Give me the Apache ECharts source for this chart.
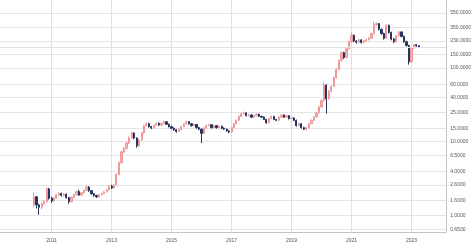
<!DOCTYPE html>
<html>
<head>
<meta charset="utf-8">
<script src="https://cdn.jsdelivr.net/npm/echarts@6/dist/echarts.min.js"></script>
<style>html,body{margin:0;padding:0;background:#fff}#c{width:474px;height:247px}</style>
</head>
<body>
<div id="c"></div>
<script>
// Monthly candles, first month and count
var startYear = 2010, startMonth = 6, monthCount = 155;

var openV = [1.40,1.80,1.40,1.30,1.45,1.55,2.30,1.72,1.58,1.75,1.92,2.00,1.88,1.95,1.75,1.55,1.78,1.92,2.12,1.90,
2.05,2.20,2.45,2.18,1.98,1.88,1.80,1.92,2.00,2.10,2.25,2.50,2.38,2.60,3.60,5.20,7.30,8.10,9.60,11.3,
13.1,11.2,8.8,10.6,13.2,16.5,17.6,16.0,15.4,16.6,17.8,16.8,17.6,18.6,17.2,16.0,15.2,14.5,13.8,14.6,
16.0,17.5,18.7,17.5,16.5,17.1,15.5,14.8,13.0,15.4,16.6,17.0,15.5,16.5,15.5,16.2,15.2,14.8,14.0,13.5,
15.5,17.5,19.5,22.0,24.0,24.5,22.5,23.0,21.5,22.5,23.5,22.0,21.5,20.0,18.0,20.5,22.0,20.0,19.5,21.5,
23.0,21.5,22.5,20.5,21.0,19.5,16.5,17.5,15.5,14.8,15.5,17.5,19.5,21.6,24.5,29.5,36.0,58.0,38.0,48.0,
56.0,73.0,95.0,125,160,138,180,225,275,230,222,238,220,232,240,250,290,380,395,330,
290,250,375,300,245,225,270,305,265,225,200,120,185,205,198];
var closeV = [1.80,1.40,1.30,1.45,1.55,2.30,1.72,1.58,1.75,1.92,2.00,1.88,1.95,1.75,1.55,1.78,1.92,2.12,1.90,2.05,
2.20,2.45,2.18,1.98,1.88,1.80,1.92,2.00,2.10,2.25,2.50,2.38,2.60,3.60,5.20,7.30,8.10,9.60,11.3,13.1,
11.2,8.8,10.6,13.2,16.5,17.6,16.0,15.4,16.6,17.8,16.8,17.6,18.6,17.2,16.0,15.2,14.5,13.8,14.6,16.0,
17.5,18.7,17.5,16.5,17.1,15.5,14.8,13.0,15.4,16.6,17.0,15.5,16.5,15.5,16.2,15.2,14.8,14.0,13.5,15.5,
17.5,19.5,22.0,24.0,24.5,22.5,23.0,21.5,22.5,23.5,22.0,21.5,20.0,18.0,20.5,22.0,20.0,19.5,21.5,23.0,
21.5,22.5,20.5,21.0,19.5,16.5,17.5,15.5,14.8,15.5,17.5,19.5,21.6,24.5,29.5,36.0,58.0,38.0,48.0,56.0,
73.0,95.0,125,160,138,180,225,275,230,222,238,220,232,240,250,290,380,395,330,290,
250,375,300,245,225,270,305,265,225,200,120,185,205,198,188];
var lowV = [1.30,1.25,1.03,1.22,1.40,1.50,1.65,1.50,1.55,1.70,1.85,1.82,1.80,1.70,1.45,1.52,1.72,1.88,1.85,1.85,
2.00,2.15,2.10,1.92,1.80,1.74,1.76,1.88,1.95,2.05,2.20,2.30,2.32,2.55,3.50,5.00,7.00,7.90,9.30,11.0,
10.8,8.3,8.6,10.3,12.8,16.0,15.5,14.8,15.0,16.2,16.4,16.3,17.2,16.8,15.6,14.8,14.0,13.2,13.5,14.3,
15.7,17.1,17.0,16.0,16.2,15.0,14.3,9.6,12.6,15.0,16.2,15.1,15.2,15.1,15.2,14.8,14.4,13.6,13.0,13.2,
15.2,17.2,19.1,21.6,23.4,22.0,22.0,21.0,21.1,22.1,21.6,21.0,19.6,17.5,17.7,20.1,19.6,19.0,19.2,21.1,
21.0,21.1,20.0,20.1,19.0,16.0,16.2,15.0,14.4,14.2,15.2,17.2,19.1,21.2,24.0,28.8,35.0,24.0,37.0,46.5,
54.5,71.0,92.0,121,132,134,175,220,222,212,216,212,214,226,234,245,284,368,320,280,
240,245,290,235,215,220,264,258,218,194,110,116,180,192,184];
var highV = [2.05,1.85,1.45,1.52,1.62,2.40,2.38,1.80,1.80,1.98,2.08,2.05,2.02,2.00,1.80,1.82,1.98,2.18,2.25,2.10,
2.28,2.58,2.50,2.22,2.02,1.92,1.96,2.05,2.15,2.30,2.58,2.62,2.68,3.75,5.40,7.60,8.50,10.0,11.8,13.6,
13.4,11.5,11.0,13.6,17.0,18.5,18.0,16.4,17.0,18.3,18.2,18.0,19.2,19.0,17.6,16.4,15.6,14.8,15.0,16.4,
17.9,19.3,19.0,17.8,17.6,17.4,15.9,15.0,15.8,17.0,17.5,17.3,16.9,16.8,16.6,16.5,15.6,15.1,14.3,15.8,
17.9,20.0,22.6,24.6,25.6,24.9,23.6,23.4,23.0,24.0,23.9,22.5,21.9,20.4,20.9,22.5,22.4,20.4,21.9,23.6,
23.4,23.0,22.9,21.5,21.4,19.9,17.9,17.8,15.9,15.9,17.9,20.0,22.1,25.2,30.5,37.5,63.0,60.0,50.0,58.0,
76.0,99.0,130,167,165,186,232,300,282,236,245,244,238,247,258,298,420,412,402,338,
298,385,382,308,252,278,315,312,272,232,205,192,212,210,203];

var yTickValues = [0.65,1.0,1.6,2.6,4.0,6.5,10,15,25,40,60,100,150,230,350,550];
var xTickYears = [2011,2013,2015,2017,2019,2021,2023];
var lastPrice = 188;

var dates = [];
for (var i = 0; i < monthCount; i++) {
  var m = startMonth - 1 + i;
  dates.push(Date.UTC(startYear + Math.floor(m/12), m%12, 1));
}
var candleData = dates.map(function(d,i){return [d, openV[i], closeV[i], lowV[i], highV[i]];});
var xTicks = xTickYears.map(function(y){return Date.UTC(y,0,1);});

var chart = echarts.init(document.getElementById('c'), null, {renderer:'canvas'});
chart.setOption({
  animation:false,
  backgroundColor:'#ffffff',
  textStyle:{fontFamily:'Liberation Sans, Arial, sans-serif'},
  grid:{left:0,right:27,top:0,bottom:15},
  xAxis:{
    type:'value', min:Date.UTC(2009,3,13), max:Date.UTC(2024,1,27), scale:true,
    axisLine:{show:true,lineStyle:{color:'#c4c4c4',width:1}},
    axisTick:{show:false,customValues:xTicks},
    axisLabel:{customValues:xTicks,fontSize:5,color:'#555',margin:6,
      formatter:function(v){return String(new Date(v).getUTCFullYear());}},
    splitLine:{show:true,lineStyle:{color:'#e0e0e0',width:1}}
  },
  yAxis:{
    type:'log', logBase:10, position:'right', min:0.602, max:824,
    axisLine:{show:true,onZero:false,lineStyle:{color:'#c4c4c4',width:1}},
    axisTick:{show:false,customValues:yTickValues},
    axisLabel:{customValues:yTickValues,fontSize:5,color:'#555',margin:4,
      formatter:function(v){return Number(v).toFixed(4);}},
    splitLine:{show:true,lineStyle:{color:'#e4e4e4',width:1}}
  },
  series:[{
    type:'candlestick',
    barWidth:1.6,
    data:candleData,
    itemStyle:{color:'#f5b0b0',color0:'#26345f',borderColor:'#ee9999',borderColor0:'#26345f',borderWidth:1},
    markLine:{silent:true,symbol:'none',label:{show:false},
      lineStyle:{color:'#e0e0e0',type:'solid',width:1},
      data:[{yAxis:lastPrice}]}
  }]
});
</script>
</body>
</html>
